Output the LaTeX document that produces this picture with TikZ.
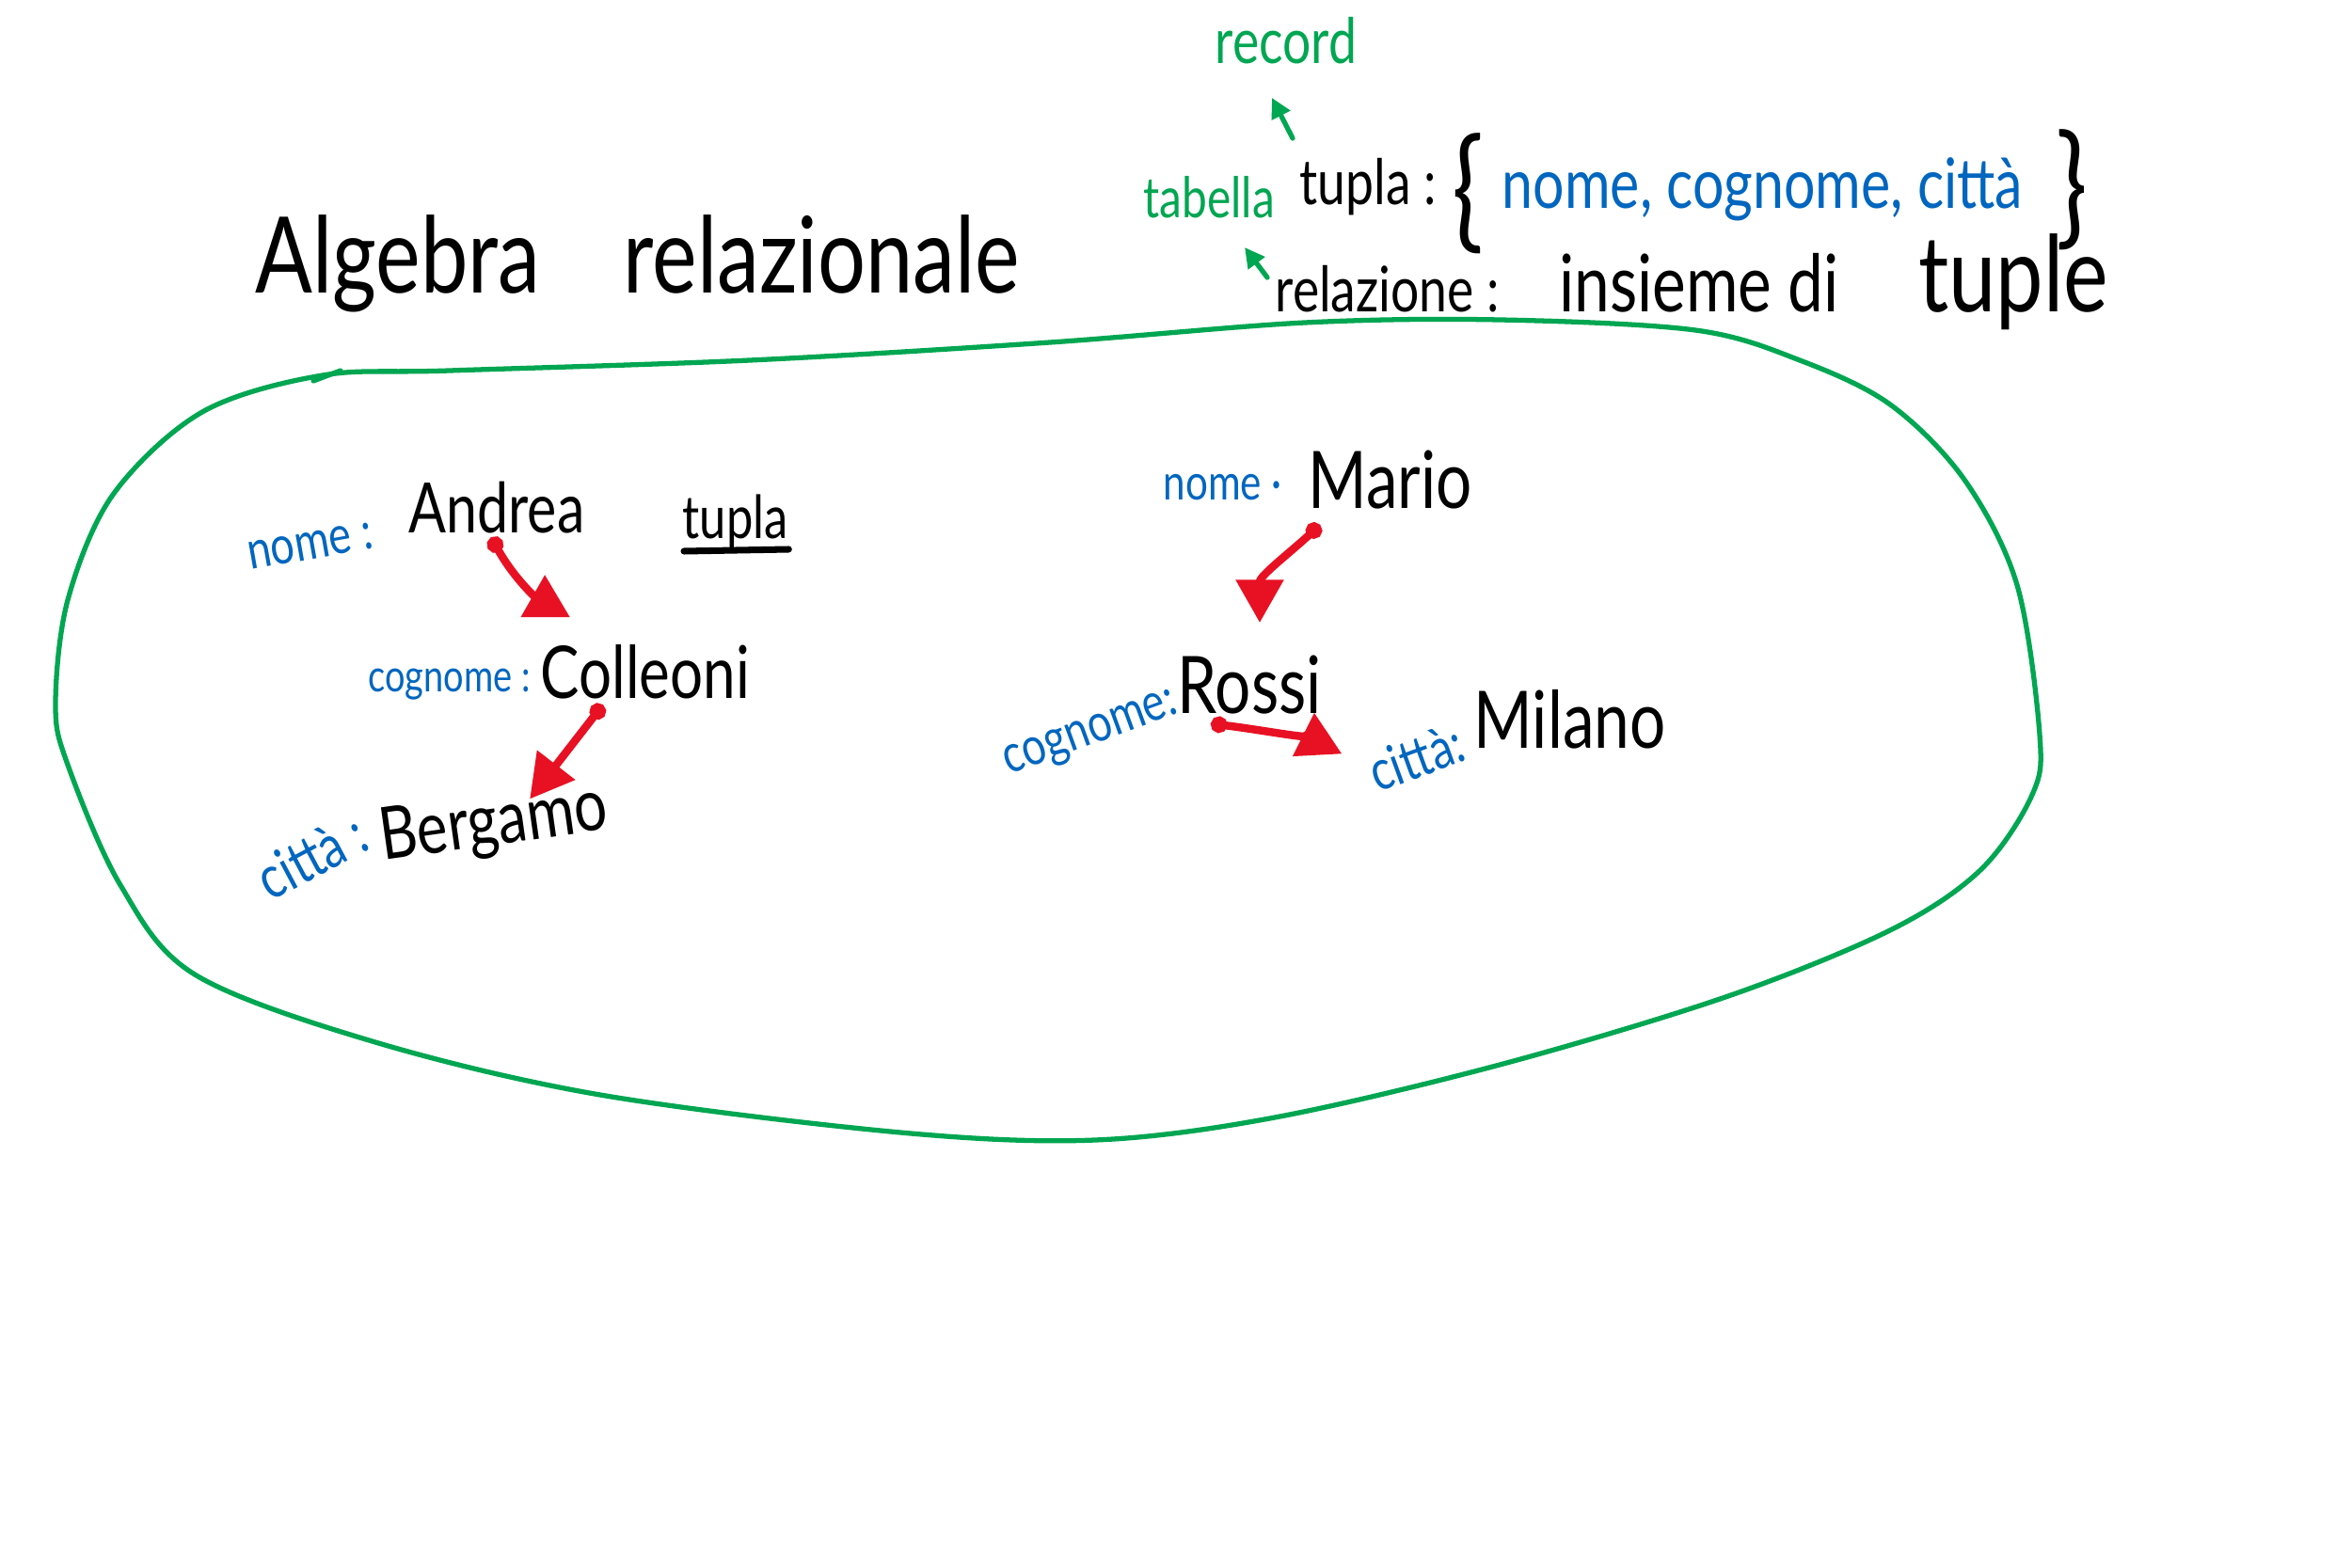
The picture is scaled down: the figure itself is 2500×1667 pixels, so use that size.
\documentclass[tikz,border=0pt]{standalone}
\usepackage{fontspec}
\setmainfont{Lato}[FakeStretch=0.8]
\usetikzlibrary{arrows.meta,calc}
\definecolor{inkgreen}{RGB}{0,166,81}
\definecolor{inkblue}{RGB}{0,102,191}
\definecolor{inkred}{RGB}{232,17,35}
\newcommand{\fs}[1]{\fontsize{#1}{#1}\selectfont}
\begin{document}
\begin{tikzpicture}[x=0.01cm,y=-0.01cm,
  ink/.style={inner sep=0pt, text=black},
  key/.style={inner sep=0pt, text=inkblue},
  note/.style={inner sep=0pt, text=inkgreen},
  link/.style={draw=inkred, line width=2.4pt, line cap=round,
    {Circle[length=5pt]}-{Triangle[length=13pt,width=14pt]}},
  hint/.style={draw=inkgreen, line width=1.5pt, line cap=round,
    -{Triangle[length=6pt,width=6pt]}},
  loop/.style={draw=inkgreen, line width=1.5pt, line cap=round},
  rule/.style={draw=black, line width=2pt, line cap=round},
]
\useasboundingbox (0,0) rectangle (2500,1667);
\fill[white] (0,0) rectangle (2500,1667);

% heading
\node[ink, anchor=base west, font=\fs{32}] (alg) at (271,312) {Algebra};
\node[ink, anchor=base west, font=\fs{32}] (rel) at (662,312) {relazionale};

% definitions in the upper right
\node[note, anchor=base west, font=\fs{19}] (record) at (1291,68) {record};
\node[note, anchor=base west, font=\fs{17}] (tabella) at (1215,232) {tabella};
\node[ink, anchor=base west, font=\fs{19}] (tupla) at (1381,218) {tupla :};
\node[ink, anchor=center, font=\fs{40}] (lbr) at (1560,206) {\{};
\node[key, anchor=base west, font=\fs{21}] (fields) at (1596,222) {nome, cognome, città};
\node[ink, anchor=center, font=\fs{40}] (rbr) at (2202,202) {\}};
\node[ink, anchor=base west] (relaz) at (1355,332)
  {\fs{19}relazione :\hspace{18pt}\fs{24}insieme di\hspace{24pt}\fs{32}tuple};

\draw[hint] ([shift={(-7,-71)}]tupla.base west) -- ([shift={(-29,-114)}]tupla.base west);
\draw[hint] ([shift={(-8,-37)}]relaz.base west) -- ([shift={(-32,-69)}]relaz.base west);

% the relation drawn as a closed loop
\draw[loop] plot[smooth cycle, tension=0.55] coordinates {
  (343,399) (478,394) (797,383) (1116,364) (1387,343) (1594,340)
  (1802,351) (1913,383) (2009,430) (2088,510) (2144,622) (2168,781)
  (2160,845) (2105,925) (2009,989) (1834,1060) (1594,1132) (1355,1188)
  (1164,1212) (957,1204) (638,1164) (399,1108) (207,1036) (128,941)
  (72,813) (59,749) (72,638) (120,526) (215,438)};
\draw[loop] (333,405) -- (362,394);

% first tuple
\node[key, anchor=west, rotate=10, font=\fs{16}] (nome1) at (263,592) {nome :};
\node[ink, anchor=base west, font=\fs{21}] (andrea) at (434,566) {Andrea};
\node[ink, anchor=base west, font=\fs{18}] (tlabel) at (725,572) {tupla};
\draw[rule] ([shift={(2,14)}]tlabel.base west) -- ([shift={(0,12)}]tlabel.base east);
\node[key, anchor=west, font=\fs{13.5}] (cogn1) at (391,728) {cognome :};
\node[ink, anchor=base west, font=\fs{22}] (colleoni) at (574,742) {Colleoni};
\node[key, anchor=center, rotate=28, font=\fs{18}] (citta1) at (331,910) {città :};
\node[ink, anchor=base west, rotate=8, font=\fs{22}] (bergamo) at (407,915) {Bergamo};

\draw[link] ([shift={(-6,4)}]andrea.south) .. controls +(25,45) and +(-35,-20) .. ([shift={(32,-28)}]colleoni.north west);
\draw[link] ([shift={(-45,6)}]colleoni.south) -- ([shift={(164,-10)}]bergamo.north west);

% second tuple
\node[key, anchor=west, font=\fs{15}] (nome2) at (1236,518) {nome ·};
\node[ink, anchor=base west, font=\fs{24}] (mario) at (1390,540) {Mario};
\node[ink, anchor=base west, font=\fs{24}] (rossi) at (1251,758) {Rossi};
\node[key, anchor=center, rotate=20, font=\fs{16}] (cogn2) at (1160,782) {cognome:};
\node[key, anchor=center, rotate=20, font=\fs{17}] (citta2) at (1505,805) {città:};
\node[ink, anchor=base west, font=\fs{24}] (milano) at (1566,795) {Milano};

\draw[link] ([shift={(13,18)}]mario.base west) .. controls +(-30,28) and +(0,-50) .. ([shift={(88,-96)}]rossi.base west);
\draw[link] ([shift={(36,10)}]rossi.south west) .. controls +(50,6) and +(-30,-15) .. ([shift={(-22,0)}]citta2.north west);
\end{tikzpicture}
\end{document}
